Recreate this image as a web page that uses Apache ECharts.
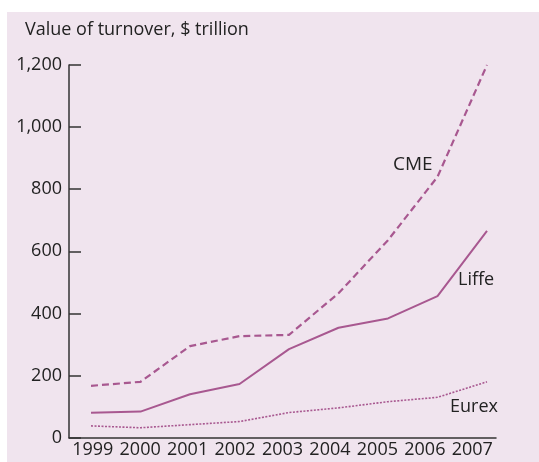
<!DOCTYPE html>
<html>
<head>
<meta charset="utf-8">
<script src="https://cdn.jsdelivr.net/npm/echarts@6/dist/echarts.min.js"></script>
<style>
html,body{margin:0;padding:0;background:#fff;}
#chart{width:539px;height:462px;}
</style>
</head>
<body>
<div id="chart"></div>
<script>
const years = ['1999','2000','2001','2002','2003','2004','2005','2006','2007'];
const cme   = [167, 180, 295, 327, 331, 465, 636, 840, 1200];
const liffe = [80, 84, 140, 173, 285, 354, 384, 456, 666];
const eurex = [38, 32, 42, 52, 81, 96, 116, 130, 180];
const yTicks = [0, 200, 400, 600, 800, 1000, 1200];

const lineColor = '#a85890';
const textColor = '#222222';
const font = '"Open Sans"';

function label(text, x, y, size) {
  return {type: 'text', x: x, y: y,
    style: {text: text, font: size + 'px ' + font, fill: textColor, verticalAlign: 'middle', align: 'left'}};
}

const chart = echarts.init(document.getElementById('chart'), null, {renderer: 'canvas'});
chart.setOption({
  animation: false,
  backgroundColor: '#ffffff',
  graphic: [
    {type: 'rect', z: -10, shape: {x: 7, y: 12, width: 540, height: 460}, style: {fill: '#f0e4ee'}},
    label('Value of turnover, $ trillion', 25, 30, 18),
    label('CME', 393, 165, 19),
    label('Liffe', 458, 280, 18),
    label('Eurex', 450, 407, 18)
  ],
  grid: [
    {left: 69, right: 43, top: 65, bottom: 24.3},
    {left: 91, right: 52, top: 65, bottom: 24.3}
  ],
  xAxis: [
    {
      type: 'category', gridIndex: 0, data: years, boundaryGap: true,
      axisLine: {lineStyle: {color: '#333', width: 1.5}},
      axisTick: {inside: true, length: 9, lineStyle: {color: '#333', width: 1.5}},
      axisLabel: {color: textColor, fontFamily: font, fontSize: 18, margin: 3, interval: 0}
    },
    {
      type: 'category', gridIndex: 1, data: years, boundaryGap: false, show: false
    }
  ],
  yAxis: [
    {
      type: 'value', gridIndex: 0, min: 0, max: 1200, interval: 200,
      axisLine: {show: true, lineStyle: {color: '#333', width: 1.5}},
      axisTick: {show: true, inside: true, length: 12, lineStyle: {color: '#333', width: 1.5}},
      splitLine: {show: false},
      axisLabel: {color: textColor, fontFamily: font, fontSize: 18, margin: 7,
        formatter: v => v.toLocaleString('en-US')}
    },
    {type: 'value', gridIndex: 1, min: 0, max: 1200, show: false}
  ],
  series: [
    {name: 'CME', type: 'line', xAxisIndex: 1, yAxisIndex: 1, data: cme, symbol: 'none',
      lineStyle: {color: lineColor, width: 2.2, type: [7, 4]}},
    {name: 'Liffe', type: 'line', xAxisIndex: 1, yAxisIndex: 1, data: liffe, symbol: 'none',
      lineStyle: {color: lineColor, width: 2}},
    {name: 'Eurex', type: 'line', xAxisIndex: 1, yAxisIndex: 1, data: eurex, symbol: 'none',
      lineStyle: {color: lineColor, width: 1.6, type: [2, 1.5]}}
  ]
});
</script>
</body>
</html>
